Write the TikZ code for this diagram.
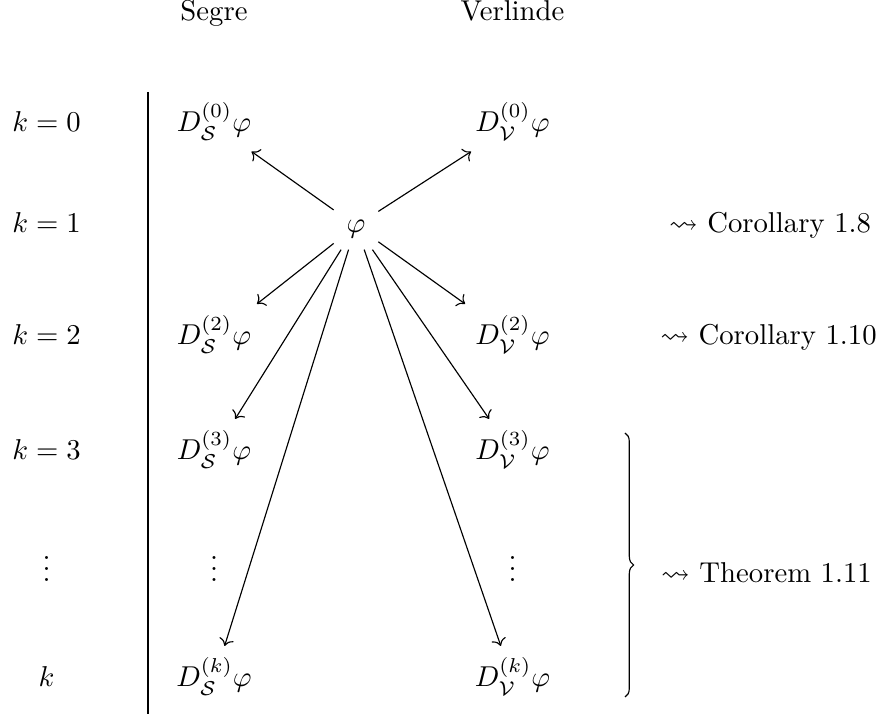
\documentclass[tikz,border=0pt]{standalone}
\usepackage{amsmath,amssymb}
\usetikzlibrary{cd,arrows.meta,decorations.pathreplacing}
\begin{document}
\begin{tikzpicture}[x=0.3484pt,y=-0.3484pt,
  cell/.style={shape=asymmetrical rectangle, inner xsep=1ex, inner ysep=0.85ex, anchor=base},
  lbl/.style={inner sep=0pt, anchor=base},
  arr/.style={-{Computer Modern Rightarrow}, line width=0.4pt}]
\useasboundingbox (0,0) rectangle (881,717);
% headers
\node[lbl] (segre) at (214,21) {Segre};
\node[lbl] (verl) at (512.5,21) {Verlinde};
% left column
\node[lbl] (k0) at (46.5,132) {$k=0$};
\node[lbl] (k1) at (46.5,233) {$k=1$};
\node[lbl] (k2) at (46.5,345) {$k=2$};
\node[lbl] (k3) at (46.5,460) {$k=3$};
\node[lbl] (kdots) at (46.5,582) {$\vdots$};
\node[lbl] (kk) at (46.5,687) {$k$};
% separator
\coordinate (vtop) at (148,92);
\coordinate (vbot) at (148,714);
\draw[line width=0.4pt] (vtop) -- (vbot);
% diagram cells
\node[cell] (S0) at (214,132) {$D^{(0)}_{\mathcal{S}}\varphi$};
\node[cell] (V0) at (512.5,132) {$D^{(0)}_{\mathcal{V}}\varphi$};
\node[cell] (phi) at (356,233) {$\varphi$};
\node[cell] (S2) at (214,345) {$D^{(2)}_{\mathcal{S}}\varphi$};
\node[cell] (V2) at (512.5,345) {$D^{(2)}_{\mathcal{V}}\varphi$};
\node[cell] (S3) at (214,460) {$D^{(3)}_{\mathcal{S}}\varphi$};
\node[cell] (V3) at (512.5,460) {$D^{(3)}_{\mathcal{V}}\varphi$};
\node[lbl] (Sdots) at (214,582) {$\vdots$};
\node[lbl] (Vdots) at (512.5,582) {$\vdots$};
\node[cell] (Sk) at (214,687) {$D^{(k)}_{\mathcal{S}}\varphi$};
\node[cell] (Vk) at (512.5,687) {$D^{(k)}_{\mathcal{V}}\varphi$};
% arrows
\draw[arr] (phi) -- (S0);
\draw[arr] (phi) -- (V0);
\draw[arr] (phi) -- (S2);
\draw[arr] (phi) -- (V2);
\draw[arr] (phi) -- (S3);
\draw[arr] (phi) -- (V3);
\draw[arr] (phi) -- (Sk);
\draw[arr] (phi) -- (Vk);
% right column
\node[lbl] (c18) at (770,233) {$\rightsquigarrow$ Corollary 1.8};
\node[lbl] (c110) at (768.5,345) {$\rightsquigarrow$ Corollary 1.10};
\coordinate (btop) at (625,433);
\coordinate (bbot) at (625,697);
\draw[line width=0.4pt, decorate, decoration={brace, amplitude=3pt}] (btop) -- (bbot);
\node[lbl] (thm) at (766.5,583) {$\rightsquigarrow$ Theorem 1.11};
\end{tikzpicture}
\end{document}
